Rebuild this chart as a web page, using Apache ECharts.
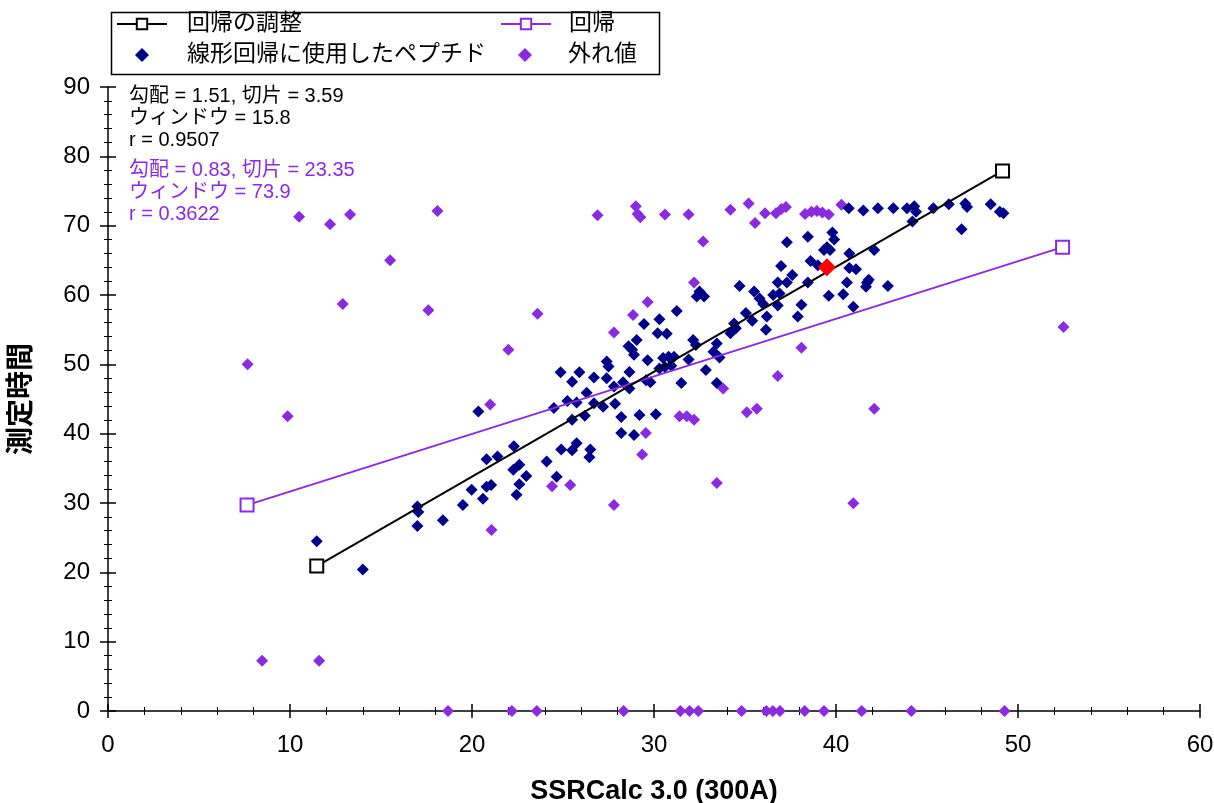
<!DOCTYPE html>
<html>
<head>
<meta charset="utf-8">
<script src="https://cdn.jsdelivr.net/npm/echarts@6/dist/echarts.min.js"></script>
<style>
html,body{margin:0;padding:0;background:#fff;}
#chart{width:1214px;height:803px;}
</style>
</head>
<body>
<div id="chart"></div>
<script>
// ---- data ----
const seriesNames = ['回帰の調整', '回帰', '線形回帰に使用したペプチド', '外れ値'];
const xAxisName = 'SSRCalc 3.0 (300A)';
const yAxisName = '測定時間';
const xTicks = [0, 10, 20, 30, 40, 50, 60];
const yTicks = [0, 10, 20, 30, 40, 50, 60, 70, 80, 90];
const adjustedStats = ['勾配 = 1.51, 切片 = 3.59', 'ウィンドウ = 15.8', 'r = 0.9507'];
const regressionStats = ['勾配 = 0.83, 切片 = 23.35', 'ウィンドウ = 73.9', 'r = 0.3622'];

// regression line end points
const adjustedLine = [[11.47, 20.9], [49.15, 77.9]];
const regressionLine = [[7.64, 29.7], [52.45, 66.9]];

// highlighted peptide
const selectedPeptide = [[39.5, 64.0]];

// peptides used for the linear regression
const fitPeptides = [
  [40.7,72.5],[41.5,72.2],[42.3,72.5],[43.15,72.5],[43.9,72.5],[44.3,72.8],[44.4,72.0],[44.2,70.6],
  [45.35,72.5],[46.2,73.1],[47.1,73.2],[47.2,72.7],[46.9,69.5],[48.5,73.1],[49.0,72.0],[49.2,71.8],
  [37.3,67.6],[38.45,68.4],[39.8,69.0],[39.9,68.0],[39.5,66.9],[39.67,66.5],[39.34,66.5],[40.73,66.0],
  [42.1,66.5],[36.98,64.2],[38.6,64.9],[39.0,64.3],[40.73,63.9],[41.1,63.7],[40.6,61.8],[41.7,61.8],
  [41.8,62.2],[41.65,61.2],[42.85,61.3],[34.7,61.3],[35.5,60.5],[35.8,59.5],[36.0,58.7],[36.55,60.0],
  [36.9,60.2],[36.8,61.8],[37.3,61.8],[37.6,62.9],[38.45,61.8],[38.1,58.6],[36.8,58.5],[39.6,59.9],
  [40.4,60.1],[40.95,58.3],[37.9,56.9],[36.2,56.9],[35.4,56.3],[35.05,57.4],[36.15,55.0],[34.4,55.9],
  [34.5,55.2],[34.2,54.5],[32.5,60.5],[32.75,59.8],[32.35,59.8],[31.25,57.7],[30.3,56.5],[29.45,55.8],
  [30.2,54.5],[30.7,54.4],[29.05,53.5],[28.6,52.6],[28.8,52.1],[28.9,51.4],[27.4,50.4],[27.5,49.7],
  [27.4,48.0],[32.15,53.5],[32.3,52.8],[33.45,53.0],[33.27,51.8],[33.6,51.0],[32.85,49.2],[29.65,50.6],
  [30.5,50.9],[30.8,51.1],[30.95,49.8],[31.1,51.1],[30.6,49.6],[30.3,49.4],[31.9,50.7],[28.65,48.9],
  [28.65,46.5],[27.8,46.8],[29.56,47.7],[29.8,47.4],[31.5,47.3],[33.45,47.3],[27.86,44.3],[27.2,43.9],
  [28.2,42.4],[29.2,42.7],[30.1,42.8],[28.2,40.1],[28.9,39.8],[24.87,48.85],[25.9,48.85],[25.5,47.5],
  [26.7,48.1],[28.3,47.4],[26.3,45.9],[25.24,44.7],[25.75,44.5],[24.5,43.7],[26.7,44.4],[25.5,42.0],
  [26.2,42.6],[20.35,43.2],[24.9,37.7],[25.5,37.6],[25.75,38.6],[26.5,37.7],[26.45,36.6],[22.3,38.2],
  [20.8,36.3],[21.4,36.7],[22.27,34.8],[22.6,35.5],[22.98,33.9],[22.6,32.7],[24.1,36.0],[24.65,33.8],
  [19.98,31.9],[20.8,32.35],[21.05,32.6],[20.6,30.6],[22.45,31.2],[19.5,29.7],[17.0,29.5],[17.05,28.7],
  [17.0,26.7],[18.4,27.5],[14.0,20.4],[11.47,24.5]
];

// outliers
const outliers = [
  [7.67,50.0],[9.87,42.5],[8.47,7.25],[11.6,7.25],[10.5,71.3],[12.2,70.2],[13.3,71.6],[12.9,58.7],
  [15.5,65.0],[17.6,57.8],[18.1,72.1],[22.0,52.1],[21.0,44.2],[21.07,26.1],[23.6,57.3],[24.4,32.4],
  [25.4,32.6],[27.8,29.7],[26.9,71.5],[29.0,72.8],[29.1,71.7],[29.25,71.2],[30.6,71.6],[31.9,71.6],
  [32.7,67.7],[32.2,61.8],[29.65,59.0],[28.85,57.1],[27.8,54.6],[34.2,72.3],[35.2,73.2],[35.55,70.4],
  [36.1,71.8],[36.7,71.8],[37.0,72.4],[37.25,72.7],[38.3,71.7],[38.65,72.0],[38.95,72.1],[39.25,71.9],
  [39.6,71.6],[40.3,73.0],[38.1,52.4],[36.8,48.3],[33.8,46.5],[31.4,42.5],[31.8,42.5],[32.2,42.0],
  [35.1,43.1],[35.65,43.6],[42.1,43.6],[29.55,40.1],[29.35,37.0],[33.45,32.9],[40.95,29.95],[52.5,55.4],
  [18.68,0],[22.19,0],[23.56,0],[28.33,0],[31.45,0],[31.95,0],[32.43,0],[34.81,0],
  [36.17,0],[36.53,0],[36.92,0],[38.28,0],[39.34,0],[41.41,0],[44.14,0],[49.26,0]
];

// ---- chart ----
const NAVY = '#00008B';
const PURPLE = '#8A2BE2';
const FONT = "'Liberation Sans', Arial, 'Noto Sans CJK JP', sans-serif";
const chart = echarts.init(document.getElementById('chart'), null, {renderer: 'canvas'});

const xMin = xTicks[0], xMax = xTicks[xTicks.length - 1], xStep = xTicks[1] - xTicks[0];
const yMin = yTicks[0], yMax = yTicks[yTicks.length - 1], yStep = yTicks[1] - yTicks[0];

const axisLine = {show: true, lineStyle: {color: '#000', width: 1.5}};
const baseX = {type: 'value', min: xMin, max: xMax, interval: xStep, gridIndex: 0, position: 'bottom',
  splitLine: {show: false}, minorSplitLine: {show: false}};
const baseY = {type: 'value', min: yMin, max: yMax, interval: yStep, gridIndex: 0, position: 'left',
  splitLine: {show: false}, minorSplitLine: {show: false}};

const legendText = {color: '#000', fontSize: 23, fontFamily: FONT, lineHeight: 24};
function legendBox(names, left, top, itemWidth, itemHeight, pad) {
  return {data: names, orient: 'vertical', left: left, top: top, padding: 5,
    itemWidth: itemWidth, itemHeight: itemHeight, itemGap: 7, selectedMode: false, symbolKeepAspect: true,
    textStyle: Object.assign({padding: [0, 0, 0, pad]}, legendText)};
}

const option = {
  backgroundColor: '#fff',
  animation: false,
  grid: {left: 108, top: 87, width: 1092, height: 624, containLabel: false, outerBoundsMode: 'none'},
  legend: [
    legendBox([seriesNames[0]], 111, 7, 50, 13, 15),
    legendBox([seriesNames[1]], 495, 7, 50, 13, 13),
    legendBox([seriesNames[2]], 130, 38, 14, 14, 33),
    legendBox([seriesNames[3]], 513, 38, 14, 14, 31)
  ],
  xAxis: [
    Object.assign({}, baseX, {
      name: xAxisName, nameLocation: 'middle', nameGap: 67,
      nameTextStyle: {fontSize: 27, fontWeight: 'bold', color: '#000', fontFamily: FONT},
      axisLine: axisLine,
      axisTick: {show: true, inside: false, length: 7, lineStyle: {color: '#000', width: 1.5}},
      minorTick: {show: true, splitNumber: 5, length: 4, lineStyle: {color: '#000', width: 1}},
      axisLabel: {show: true, margin: 22, fontSize: 24, color: '#000', fontFamily: FONT}
    }),
    Object.assign({}, baseX, {
      axisLine: {show: false},
      axisTick: {show: true, inside: true, length: 7, lineStyle: {color: '#000', width: 1.5}},
      minorTick: {show: true, splitNumber: 5, length: 4, lineStyle: {color: '#000', width: 1}},
      axisLabel: {show: false}
    })
  ],
  yAxis: [
    Object.assign({}, baseY, {
      name: yAxisName, nameLocation: 'middle', nameGap: 72, nameRotate: 90,
      nameTextStyle: {fontSize: 28, fontWeight: 'bold', color: '#000', fontFamily: FONT},
      axisLine: axisLine,
      axisTick: {show: true, inside: false, length: 8, lineStyle: {color: '#000', width: 1.5}},
      minorTick: {show: true, splitNumber: 5, length: 4, lineStyle: {color: '#000', width: 1}},
      axisLabel: {show: true, margin: 18, fontSize: 24, color: '#000', fontFamily: FONT}
    }),
    Object.assign({}, baseY, {
      axisLine: {show: false},
      axisTick: {show: true, inside: true, length: 8, lineStyle: {color: '#000', width: 1.5}},
      minorTick: {show: true, splitNumber: 5, length: 4, lineStyle: {color: '#000', width: 1}},
      axisLabel: {show: false}
    })
  ],
  graphic: [
    {type: 'rect', left: 109, top: 10, z: 0, silent: true,
     shape: {width: 548, height: 62}, style: {fill: 'none', stroke: '#000', lineWidth: 1.5}},
    {type: 'text', left: 129, top: 85, z: 10, silent: true,
     style: {text: adjustedStats.join('\n'), fill: '#000', fontSize: 20, fontFamily: FONT, lineHeight: 22}},
    {type: 'text', left: 129, top: 159, z: 10, silent: true,
     style: {text: regressionStats.join('\n'), fill: PURPLE, fontSize: 20, fontFamily: FONT, lineHeight: 22}}
  ],
  series: [
    {name: seriesNames[3], type: 'scatter', xAxisIndex: 0, yAxisIndex: 0, clip: true,
     symbol: 'diamond', symbolSize: 12, itemStyle: {color: PURPLE, opacity: 1}, data: outliers, z: 2},
    {name: seriesNames[2], type: 'scatter', xAxisIndex: 0, yAxisIndex: 0, clip: true,
     symbol: 'diamond', symbolSize: 12, itemStyle: {color: NAVY, opacity: 1}, data: fitPeptides, z: 3},
    {name: seriesNames[1], type: 'line', xAxisIndex: 0, yAxisIndex: 0,
     symbol: 'emptyRect', symbolSize: 13, showAllSymbol: true,
     lineStyle: {color: PURPLE, width: 2}, itemStyle: {color: PURPLE, borderWidth: 2},
     data: regressionLine, z: 4},
    {name: seriesNames[0], type: 'line', xAxisIndex: 0, yAxisIndex: 0,
     symbol: 'emptyRect', symbolSize: 13, showAllSymbol: true,
     lineStyle: {color: '#000', width: 2}, itemStyle: {color: '#000', borderWidth: 2},
     data: adjustedLine, z: 5},
    {name: 'selected', type: 'scatter', xAxisIndex: 0, yAxisIndex: 0,
     symbol: 'diamond', symbolSize: 18, itemStyle: {color: '#FF0000', opacity: 1}, data: selectedPeptide, z: 6}
  ]
};
chart.setOption(option);
</script>
</body>
</html>
